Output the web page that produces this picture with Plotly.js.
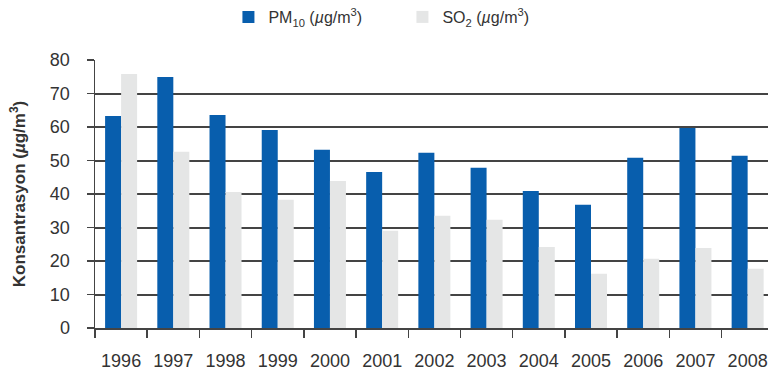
<!DOCTYPE html>
<html>
<head>
<meta charset="utf-8">
<script src="https://cdn.plot.ly/plotly-3.0.1.min.js"></script>
<style>html,body{margin:0;padding:0;background:#fff;}#chart{width:768px;height:379px;}</style>
</head>
<body>
<div id="chart"></div>
<script>
const years = ['1996','1997','1998','1999','2000','2001','2002','2003','2004','2005','2006','2007','2008'];
const pm10 = [63.3, 74.9, 63.6, 59.1, 53.2, 46.6, 52.3, 47.8, 40.9, 36.8, 50.8, 59.7, 51.4];
const so2 = [75.8, 52.6, 40.6, 38.3, 43.9, 29.0, 33.5, 32.3, 24.2, 16.2, 20.7, 23.9, 17.7];
const yTicks = [0, 10, 20, 30, 40, 50, 60, 70, 80];

const font = 'Liberation Sans, Arial, sans-serif';
const traces = [
  {type: 'bar', x: years, y: pm10, name: 'PM<sub>10</sub> (<i>µ</i>g/m<sup>3</sup>)', marker: {color: '#085EAD'}},
  {type: 'bar', x: years, y: so2, name: 'SO<sub>2</sub> (<i>µ</i>g/m<sup>3</sup>)', marker: {color: '#E5E6E6'}}
];
const layout = {
  width: 768, height: 379,
  margin: {l: 95, r: 0, t: 60, b: 51},
  paper_bgcolor: '#fff', plot_bgcolor: '#fff',
  font: {family: font, size: 16, color: '#333'},
  barmode: 'group', bargap: 0.387, bargroupgap: 0,
  showlegend: true,
  legend: {orientation: 'h', xref: 'container', x: 0.524, xanchor: 'center', yref: 'container', y: 1, yanchor: 'top',
           font: {family: font, size: 16, color: '#333'}, entrywidth: 129, itemwidth: 30},
  xaxis: {type: 'category', range: [-0.5, 12.39], showgrid: false, showline: true, linecolor: '#444', linewidth: 1.5,
          ticks: 'outside', tickson: 'boundaries', ticklen: 8, tickcolor: '#444', tickwidth: 1.5, ticklabelstandoff: 16,
          tickfont: {family: font, size: 18, color: '#333'}, fixedrange: true},
  yaxis: {range: [0, 80], tickvals: yTicks, showgrid: true, gridcolor: '#444', gridwidth: 2,
          showline: true, linecolor: '#444', linewidth: 1.5, zeroline: false,
          ticks: 'outside', ticklen: 7, tickcolor: '#444', tickwidth: 1.5, ticklabelstandoff: 13,
          tickfont: {family: font, size: 18, color: '#333'},
          title: {text: '<b>Konsantrasyon (<i>µ</i>g/m<sup>3</sup>)</b>', font: {family: font, size: 17, color: '#333'}, standoff: 20}}
};
Plotly.newPlot('chart', traces, layout, {displayModeBar: false, staticPlot: true});
</script>
</body>
</html>
